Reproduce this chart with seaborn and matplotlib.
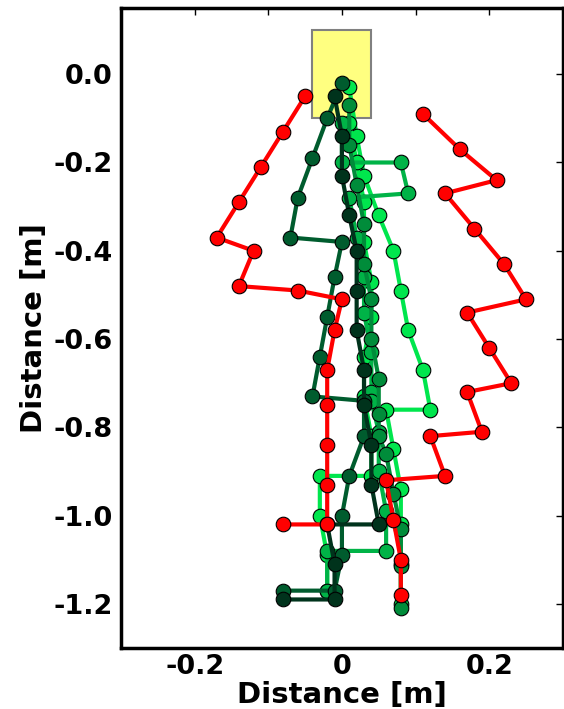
import matplotlib
matplotlib.use("Agg")
import matplotlib.pyplot as plt
import seaborn as sns
import pandas as pd
from matplotlib.patches import Rectangle

# ---------------- data (x, y in metres) ----------------
bright1_x = [0.01, 0.02, 0.03, 0.05, 0.07, 0.08, 0.09, 0.11, 0.12, 0.06, 0.07, 0.08, 0.08, 0.08, 0.08]
bright1_y = [-0.03, -0.14, -0.23, -0.32, -0.40, -0.49, -0.58, -0.67, -0.76, -0.76, -0.85, -0.94, -1.02, -1.11, -1.20]

bright2_x = [0.01, 0.02, 0.03, 0.03, 0.04, 0.04, 0.03, 0.03, 0.04, 0.04, -0.03, -0.03, -0.02, -0.02]
bright2_y = [-0.11, -0.20, -0.29, -0.38, -0.47, -0.55, -0.64, -0.73, -0.82, -0.91, -0.91, -1.00, -1.09, -1.17]

medA_x = [0.00, 0.00, 0.08, 0.09, 0.01, 0.02, 0.03, 0.03, 0.04, 0.04, 0.04, 0.05, 0.05, 0.06, 0.06, -0.02, -0.02]
medA_y = [-0.11, -0.20, -0.20, -0.27, -0.28, -0.37, -0.46, -0.54, -0.63, -0.72, -0.74, -0.81, -0.90, -0.99, -1.08, -1.08, -1.17]

medB_x = [0.01, 0.01, 0.02, 0.03, 0.03, 0.04, 0.04, 0.05, 0.05, 0.05, 0.06, 0.07, 0.08, 0.08, 0.08]
medB_y = [-0.07, -0.16, -0.25, -0.34, -0.43, -0.51, -0.60, -0.69, -0.77, -0.82, -0.86, -0.95, -1.03, -1.115, -1.21]

dark_x = [0.00, -0.02, -0.04, -0.06, -0.07, 0.00, -0.01, -0.02, -0.03, -0.04, 0.03, 0.03, 0.01, 0.00, 0.00, -0.01, -0.08]
dark_y = [-0.02, -0.10, -0.19, -0.28, -0.37, -0.38, -0.46, -0.55, -0.64, -0.73, -0.74, -0.82, -0.91, -1.00, -1.09, -1.17, -1.17]

darkest_x = [-0.01, 0.00, 0.00, 0.01, 0.02, 0.02, 0.02, 0.03, 0.03, 0.04, 0.04, 0.05, -0.02, -0.01, -0.01, -0.08]
darkest_y = [-0.05, -0.14, -0.23, -0.32, -0.40, -0.49, -0.58, -0.67, -0.75, -0.84, -0.93, -1.02, -1.02, -1.11, -1.19, -1.19]

redL_x = [-0.05, -0.08, -0.11, -0.14, -0.17, -0.12, -0.14, -0.06, 0.00, -0.01, -0.02, -0.02, -0.02, -0.02, -0.02, -0.08]
redL_y = [-0.05, -0.13, -0.21, -0.29, -0.37, -0.40, -0.48, -0.49, -0.51, -0.58, -0.67, -0.75, -0.84, -0.93, -1.02, -1.02]

redR_x = [0.11, 0.16, 0.21, 0.14, 0.18, 0.22, 0.25, 0.17, 0.20, 0.23, 0.17, 0.19, 0.12, 0.14, 0.06, 0.07, 0.08, 0.08]
redR_y = [-0.09, -0.17, -0.24, -0.27, -0.35, -0.43, -0.51, -0.54, -0.62, -0.70, -0.72, -0.81, -0.82, -0.91, -0.92, -1.01, -1.10, -1.18]

series = [
    ("bright1", bright1_x, bright1_y, "#00e64d"),
    ("bright2", bright2_x, bright2_y, "#00e64d"),
    ("medA", medA_x, medA_y, "#00b347"),
    ("medB", medB_x, medB_y, "#008c3a"),
    ("dark", dark_x, dark_y, "#005c2e"),
    ("darkest", darkest_x, darkest_y, "#00331c"),
    ("redL", redL_x, redL_y, "#ff0000"),
    ("redR", redR_x, redR_y, "#ff0000"),
]

# target zone
zone_x = [-0.04, 0.04]
zone_y = [-0.10, 0.10]

xticks = [-0.2, -0.1, 0.0, 0.1, 0.2]
xticklabels = ["-0.2", "", "0", "", "0.2"]
yticks = [0.0, -0.2, -0.4, -0.6, -0.8, -1.0, -1.2]
yticklabels = ["0.0", "-0.2", "-0.4", "-0.6", "-0.8", "-1.0", "-1.2"]

# ---------------- plot ----------------
sns.set_style("white")
plt.rcParams["font.family"] = ["DejaVu Sans"]
for k in ["text.color", "axes.labelcolor", "xtick.color", "ytick.color"]:
    plt.rcParams[k] = "black"

fig = plt.figure(figsize=(5.64, 7.09), dpi=100)
ax = fig.add_axes([0.2145, 0.086, 0.7835, 0.9027])

ax.add_patch(Rectangle((zone_x[0], zone_y[0]), zone_x[1] - zone_x[0], zone_y[1] - zone_y[0],
                       facecolor="#ffff80", edgecolor="#808080", lw=1.5, zorder=1))

for i, (name, xs, ys, col) in enumerate(series):
    df = pd.DataFrame({"x": xs, "y": ys})
    sns.lineplot(data=df, x="x", y="y", sort=False, estimator=None, ax=ax,
                 color=col, lw=3, marker="o", markersize=10.5,
                 markeredgecolor="black", markeredgewidth=0.8, zorder=2 + i)

ax.set_xlim(-0.3, 0.3)
ax.set_ylim(-1.3, 0.15)
ax.set_xticks(xticks)
ax.set_xticklabels(xticklabels)
ax.set_yticks(yticks)
ax.set_yticklabels(yticklabels)
ax.tick_params(direction="in", length=5, width=1, top=True, right=True,
               labelsize=19.5)
ax.tick_params(axis="y", pad=6)
ax.tick_params(axis="x", pad=4)
for lab in ax.get_xticklabels() + ax.get_yticklabels():
    lab.set_fontweight("bold")
for sp in ax.spines.values():
    sp.set_linewidth(2.5)
    sp.set_color("black")

ax.set_xlabel("Distance [m]", fontsize=21, fontweight="bold", labelpad=1)
ax.set_ylabel("Distance [m]", fontsize=21, fontweight="bold", labelpad=4)

fig.savefig("out.png", dpi=100)
